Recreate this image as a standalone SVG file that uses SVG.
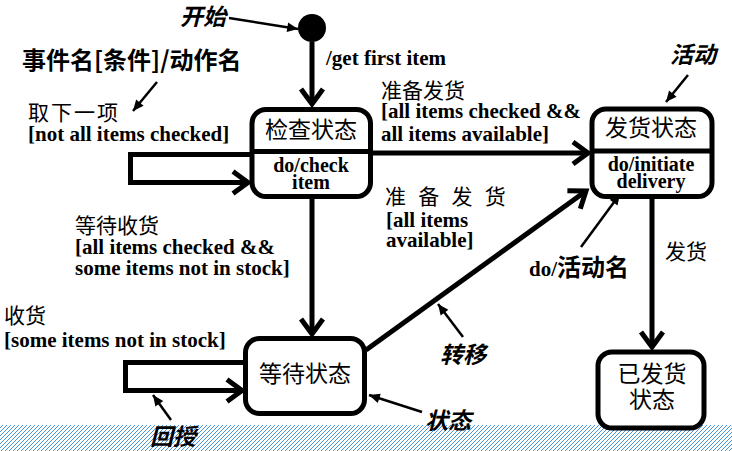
<svg xmlns="http://www.w3.org/2000/svg" width="732" height="451" viewBox="0 0 732 451">
<defs>
<style>
.cjk{font-family:"Liberation Serif","Noto Sans CJK SC",serif;font-size:21px;fill:#000}
.lat{font-family:"Liberation Serif",serif;font-weight:bold;font-size:21px;fill:#000}
.note{font-family:"Noto Sans CJK SC",sans-serif;font-weight:bold;font-style:italic;font-size:23px;fill:#000}
.title{font-family:"Noto Sans CJK SC",sans-serif;font-weight:bold;font-size:24px;fill:#000}
.state{font-family:"Liberation Serif","Noto Sans CJK SC",serif;font-size:23px;text-anchor:middle;fill:#000}
.inner{font-family:"Liberation Serif",serif;font-weight:bold;font-size:20px;text-anchor:middle;fill:#000}
.box{fill:#fff;stroke:#000;stroke-width:5}
.div{stroke:#000;stroke-width:5}
.conn{fill:none;stroke:#000;stroke-width:5;marker-end:url(#open)}
.thin{fill:none;stroke:#000;stroke-width:2.5;marker-end:url(#small)}
</style>
<marker id="open" markerUnits="userSpaceOnUse" markerWidth="40" markerHeight="40" viewBox="-25 -20 32 40" refX="0" refY="0" orient="auto">
<path d="M-15,-11 L0,0 L-15,11" fill="none" stroke="#000" stroke-width="5"/>
</marker>
<marker id="small" markerUnits="userSpaceOnUse" markerWidth="14" markerHeight="14" viewBox="-11 -6 13 12" refX="0" refY="0" orient="auto">
<path d="M-10,-4.5 L0,0 L-10,4.5 z" fill="#000"/>
</marker>
<pattern id="hatch" patternUnits="userSpaceOnUse" width="4" height="4">
<path d="M-1,1 L1,-1 M0,4 L4,0 M3,5 L5,3" stroke="#4a94dc" stroke-width="1"/>
</pattern>
</defs>

<rect id="ground" x="0" y="425" width="732" height="26" fill="url(#hatch)"/>

<g id="connectors">
<line id="c-start" class="conn" x1="312" y1="42" x2="312" y2="104"/>
<line id="c-check-ship" class="conn" x1="372" y1="153" x2="588" y2="153"/>
<line id="c-check-wait" class="conn" x1="312" y1="199" x2="312" y2="334"/>
<line id="c-wait-ship" class="conn" x1="366" y1="350" x2="586" y2="191"/>
<line id="c-ship-done" class="conn" x1="652" y1="199" x2="652" y2="347"/>
<polyline id="c-check-self" class="conn" points="252,154.5 130.5,154.5 130.5,182.5 248,182.5"/>
<polyline id="c-wait-self" class="conn" points="245,362.5 125.5,362.5 125.5,390.5 242,390.5"/>
<line id="a-start" class="thin" x1="229" y1="18" x2="298" y2="29"/>
<line id="a-event" class="thin" x1="157" y1="82" x2="133" y2="111"/>
<line id="a-activity" class="thin" x1="688" y1="75" x2="666" y2="102"/>
<line id="a-doname" class="thin" x1="581" y1="247" x2="620" y2="194"/>
<line id="a-feedback" class="thin" x1="171" y1="420" x2="153" y2="395"/>
<line id="a-transition" class="thin" x1="463" y1="337" x2="438" y2="304"/>
<line id="a-state" class="thin" x1="422" y1="412" x2="369" y2="395"/>
</g>

<g id="start">
<circle cx="312" cy="28" r="14" fill="#000"/>
</g>

<g id="check">
<rect class="box" x="252" y="109.5" width="118.5" height="87" rx="14"/>
<line class="div" x1="252" y1="151.5" x2="370.5" y2="151.5"/>
<text class="state" x="311" y="137.5">检查状态</text>
<text class="inner" x="311" y="172">do/check</text>
<text class="inner" x="311" y="189">item</text>
</g>

<g id="ship">
<rect class="box" x="592" y="109" width="120" height="87.5" rx="14"/>
<line class="div" x1="592" y1="151" x2="712" y2="151"/>
<text class="state" x="651" y="136">发货状态</text>
<text class="inner" x="651" y="171">do/initiate</text>
<text class="inner" x="651" y="188">delivery</text>
</g>

<g id="wait">
<rect class="box" x="245.5" y="338.5" width="119" height="75" rx="14"/>
<text class="state" x="305" y="382">等待状态</text>
</g>

<g id="done">
<rect class="box" x="598" y="352" width="106" height="76" rx="14"/>
<text class="state" x="652" y="382">已发货</text>
<text class="state" x="652" y="408">状态</text>
</g>

<g id="labels">
<text class="note" x="180" y="25">开始</text>
<text class="title" x="22" y="69">事件名[条件]/动作名</text>
<text class="cjk" x="28" y="120" letter-spacing="2">取下一项</text>
<text class="lat" x="28" y="141">[not all items checked]</text>
<text class="lat" x="326" y="65">/get first item</text>
<text class="cjk" x="381" y="98">准备发货</text>
<text class="lat" x="381" y="118">[all items checked &amp;&amp;</text>
<text class="lat" x="381" y="141">all items available]</text>
<text class="note" x="670" y="62.5">活动</text>
<text class="cjk" x="385" y="204" letter-spacing="3.5">准 备 发 货</text>
<text class="lat" x="386" y="227">[all items</text>
<text class="lat" x="386" y="247">available]</text>
<text x="529" y="276"><tspan class="lat">do/</tspan><tspan class="title">活动名</tspan></text>
<text class="cjk" x="665" y="259">发货</text>
<text class="cjk" x="75" y="233">等待收货</text>
<text class="lat" x="75" y="254">[all items checked &amp;&amp;</text>
<text class="lat" x="75" y="275">some items not in stock]</text>
<text class="cjk" x="4" y="323">收货</text>
<text class="lat" x="4" y="347">[some items not in stock]</text>
<text class="note" x="150" y="445">回授</text>
<text class="note" x="440" y="363">转移</text>
<text class="note" x="425" y="428.5">状态</text>
</g>
</svg>
